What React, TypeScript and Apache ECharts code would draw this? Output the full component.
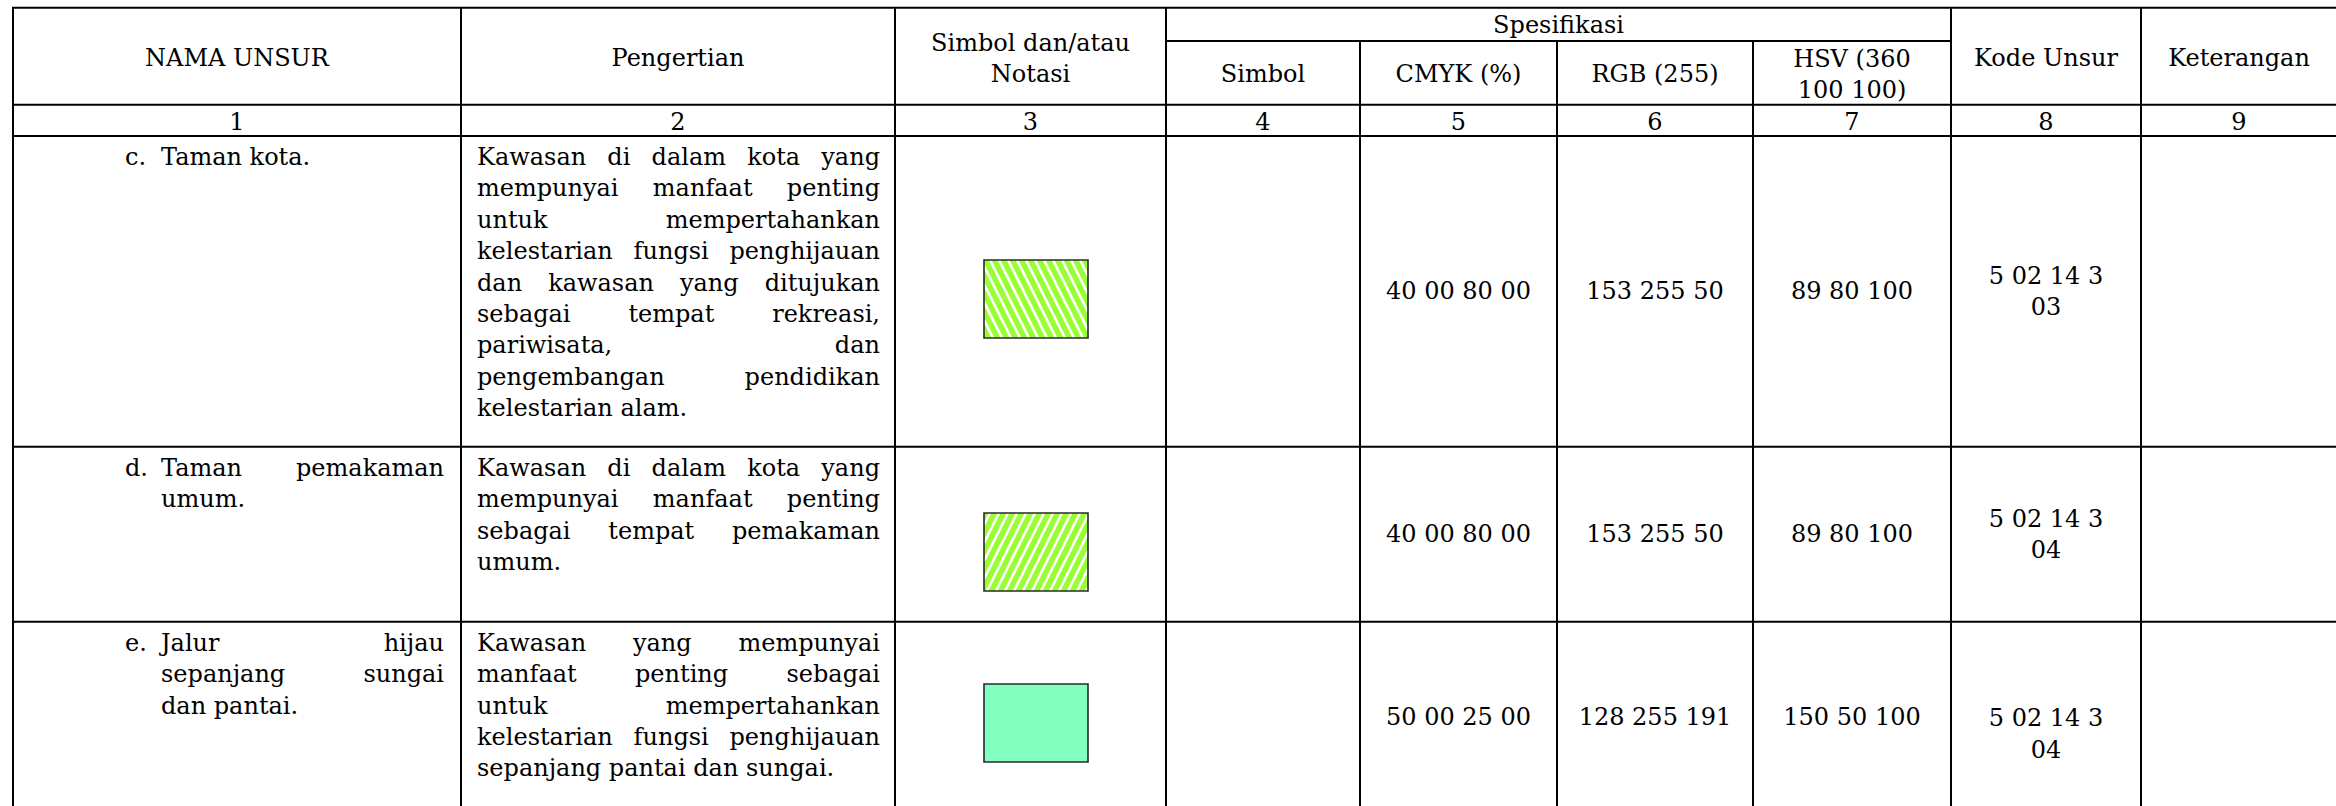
import React, { useEffect, useRef } from "react";
import * as echarts from "echarts";

// ---------- content ----------
const mainHeaders: string[][] = [["NAMA UNSUR"], ["Pengertian"], ["Simbol dan/atau", "Notasi"]];
const groupHeader = "Spesifikasi";
const subHeaders: string[][] = [["Simbol"], ["CMYK (%)"], ["RGB (255)"], ["HSV (360", "100 100)"]];
const tailHeaders: string[][] = [["Kode Unsur"], ["Keterangan"]];
const colNumbers = ["1", "2", "3", "4", "5", "6", "7", "8", "9"];

const itemLabels = ["c.", "d.", "e."];
const itemNames: string[][] = [
  ["Taman kota."],
  ["Taman pemakaman", "umum."],
  ["Jalur hijau", "sepanjang sungai", "dan pantai."],
];
const definitions: string[][] = [
  [
    "Kawasan di dalam kota yang",
    "mempunyai manfaat penting",
    "untuk mempertahankan",
    "kelestarian fungsi penghijauan",
    "dan kawasan yang ditujukan",
    "sebagai tempat rekreasi,",
    "pariwisata, dan",
    "pengembangan pendidikan",
    "kelestarian alam.",
  ],
  ["Kawasan di dalam kota yang", "mempunyai manfaat penting", "sebagai tempat pemakaman", "umum."],
  [
    "Kawasan yang mempunyai",
    "manfaat penting sebagai",
    "untuk mempertahankan",
    "kelestarian fungsi penghijauan",
    "sepanjang pantai dan sungai.",
  ],
];
const cmyk = ["40 00 80 00", "40 00 80 00", "50 00 25 00"];
const rgb = ["153 255 50", "153 255 50", "128 255 191"];
const hsv = ["89 80 100", "89 80 100", "150 50 100"];
const kodeUnsur: string[][] = [
  ["5 02 14 3", "03"],
  ["5 02 14 3", "04"],
  ["5 02 14 3", "04"],
];
const hatch = ["back", "forward", "none"];

// ---------- layout ----------
const W = 2336;
const H = 806;
const FS = 24;
const FAMILY = '"DejaVu Serif", "Liberation Serif", serif';
const CANVAS_FONT = `${FS}px ${FAMILY}`;
const LH = 31.4;
const colX = [13, 461, 895, 1166, 1360, 1557, 1753, 1951, 2141, 2337];
const topY = 7.7;
const subY = 41;
const headBottom = 104.7;
const numBottom = 136;
const rowY = [136, 446.7, 621.7, 812];
const rectTop = [260, 513, 684];
const rectLeft = 984;
const rectW = 104;
const rectH = 78;
const kodeShift = [0, 0, 17];

let ctx: CanvasRenderingContext2D | null = null;
function measure(t: string): number {
  if (!ctx) ctx = document.createElement("canvas").getContext("2d");
  ctx!.font = CANVAS_FONT;
  return ctx!.measureText(t).width;
}

function txt(text: string, x: number, y: number, align = "center"): any {
  return {
    type: "text",
    x,
    y,
    silent: true,
    style: {
      text,
      fontSize: FS,
      fontFamily: FAMILY,
      fill: "#000",
      textAlign: align,
      textVerticalAlign: "middle",
    },
  };
}

function lineEl(x1: number, y1: number, x2: number, y2: number, w = 2, color = "#000"): any {
  return { type: "line", silent: true, shape: { x1, y1, x2, y2 }, style: { stroke: color, lineWidth: w } };
}

function justified(line: string, left: number, right: number, y: number, justify: boolean): any[] {
  const words = line.split(" ");
  if (!justify || words.length < 2) return [txt(line, left, y, "left")];
  const widths = words.map(measure);
  const sum = widths.reduce((a, b) => a + b, 0);
  let gap = (right - left - sum) / (words.length - 1);
  const sp = measure(" ");
  if (gap < sp * 0.6) gap = sp * 0.6;
  const out: any[] = [];
  let x = left;
  words.forEach((w, i) => {
    out.push(txt(w, x, y, "left"));
    x += widths[i] + gap;
  });
  return out;
}

function hatchLines(kind: string, left: number, top: number, w: number, h: number): any[] {
  if (kind === "none") return [];
  const out: any[] = [];
  const k = 0.5;
  const period = 9;
  const right = left + w;
  const bottom = top + h;
  const s = kind === "back" ? 1 : -1;
  for (let c = left - k * h - period; c < right + k * h + period; c += period) {
    const y1 = top + (left - c) / (s * k);
    const y2 = top + (right - c) / (s * k);
    const yA = Math.max(top, Math.min(y1, y2));
    const yB = Math.min(bottom, Math.max(y1, y2));
    if (yB - yA < 0.5) continue;
    out.push(lineEl(c + s * k * (yA - top), yA, c + s * k * (yB - top), yB, 2.6, "#ffffff"));
  }
  return out;
}

function buildGraphic(): any[] {
  const els: any[] = [];
  const cx = (i: number) => (colX[i] + colX[i + 1]) / 2;

  const headMid = (topY + headBottom) / 2 + 2;
  mainHeaders.forEach((lines, i) => {
    lines.forEach((l, j) => els.push(txt(l, cx(i), headMid + (j - (lines.length - 1) / 2) * LH)));
  });
  els.push(txt(groupHeader, (colX[3] + colX[7]) / 2, (topY + subY) / 2 + 0.5));
  const subMid = (subY + headBottom) / 2 + 1.5;
  subHeaders.forEach((lines, i) => {
    lines.forEach((l, j) => els.push(txt(l, cx(3 + i), subMid + (j - (lines.length - 1) / 2) * LH)));
  });
  tailHeaders.forEach((lines, i) => {
    lines.forEach((l, j) => els.push(txt(l, cx(7 + i), headMid + (j - (lines.length - 1) / 2) * LH)));
  });
  colNumbers.forEach((n, i) => els.push(txt(n, cx(i), (headBottom + numBottom) / 2 + 2)));

  for (let r = 0; r < 3; r++) {
    const top = rowY[r];
    const bot = rowY[r + 1];
    const first = top + 21;
    const mid = (top + bot) / 2;
    els.push(txt(itemLabels[r], 125, first, "left"));
    itemNames[r].forEach((l, j) =>
      els.push(...justified(l, 161, 444, first + j * LH, j < itemNames[r].length - 1))
    );
    definitions[r].forEach((l, j) =>
      els.push(...justified(l, 477, 880, first + j * LH, j < definitions[r].length - 1))
    );
    const fillColor = `rgb(${rgb[r].split(" ").join(",")})`;
    els.push({
      type: "rect",
      silent: true,
      shape: { x: rectLeft, y: rectTop[r], width: rectW, height: rectH },
      style: { fill: fillColor, stroke: "none" },
    });
    els.push(...hatchLines(hatch[r], rectLeft, rectTop[r], rectW, rectH));
    els.push({
      type: "rect",
      silent: true,
      shape: { x: rectLeft, y: rectTop[r], width: rectW, height: rectH },
      style: { fill: "none", stroke: "#2a2a2a", lineWidth: 1.6 },
    });
    els.push(txt(cmyk[r], cx(4), mid));
    els.push(txt(rgb[r], cx(5), mid));
    els.push(txt(hsv[r], cx(6), mid));
    const kl = kodeUnsur[r];
    kl.forEach((l, j) =>
      els.push(txt(l, cx(7), mid + kodeShift[r] + (j - (kl.length - 1) / 2) * LH))
    );
  }

  els.push(lineEl(colX[0] - 1, topY, W, topY));
  els.push(lineEl(colX[3], subY, colX[7], subY));
  els.push(lineEl(colX[0] - 1, headBottom, W, headBottom));
  els.push(lineEl(colX[0] - 1, numBottom, W, numBottom));
  els.push(lineEl(colX[0] - 1, rowY[1], W, rowY[1]));
  els.push(lineEl(colX[0] - 1, rowY[2], W, rowY[2]));
  colX.forEach((x, i) => {
    const y1 = i >= 4 && i <= 6 ? subY : topY;
    els.push(lineEl(x, y1, x, H + 10));
  });
  return els;
}

export default function App() {
  const ref = useRef<HTMLDivElement>(null);
  useEffect(() => {
    if (!ref.current) return;
    const chart = echarts.init(ref.current, undefined, { renderer: "svg", width: W, height: H });
    chart.setOption({
      animation: false,
      backgroundColor: "#ffffff",
      graphic: { elements: buildGraphic() },
    });
    return () => chart.dispose();
  }, []);
  return (
    <div
      ref={ref}
      style={{ position: "fixed", left: 0, top: 0, width: W, height: H, background: "#fff" }}
    />
  );
}
